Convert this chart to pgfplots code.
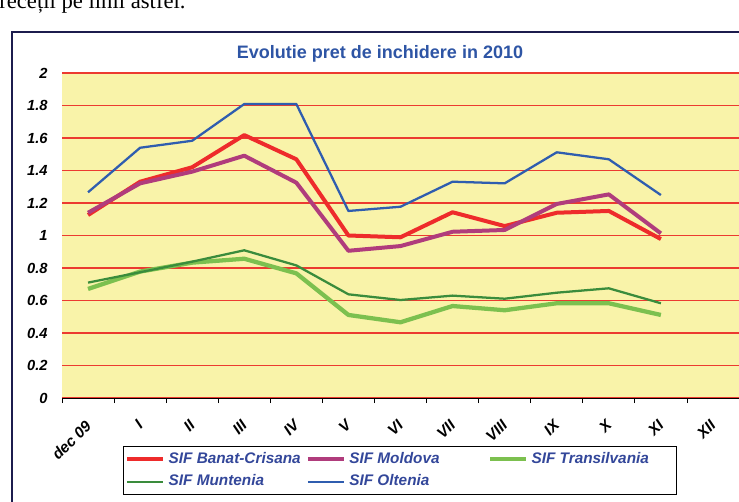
\documentclass[border=0pt]{standalone}
\usepackage{fontspec}
\setmainfont{Liberation Sans}
\newfontfamily\serifdoc{Liberation Serif}
\usepackage{pgfplots}
\pgfplotsset{compat=1.18}
\definecolor{bgyellow}{HTML}{F9F3A9}
\definecolor{gridred}{HTML}{EC3A30}
\definecolor{sred}{HTML}{EE2B2B}
\definecolor{spurple}{HTML}{B03C7C}
\definecolor{slgreen}{HTML}{7CC04F}
\definecolor{sdgreen}{HTML}{3A8C3C}
\definecolor{sblue}{HTML}{2F5DAF}
\definecolor{legblue}{HTML}{33479A}
\definecolor{titleblue}{HTML}{2E55A5}
\definecolor{frame}{HTML}{1C1C4E}
\begin{document}
\begin{tikzpicture}[x=0.75pt,y=-0.75pt]
\useasboundingbox (0,0) rectangle (739,502);
\clip (0,0) rectangle (739,502);
\fill[white] (0,0) rectangle (739,502);
\node[font=\serifdoc\fontsize{17}{20}\selectfont, anchor=base west, inner sep=0pt] at (-1,9) {receții pe linii astfel.};
\draw[frame, line width=1.5pt] (12,32) rectangle (780,540);
\begin{axis}[
  at={(46.5pt,-298.5pt)}, anchor=south west,
  scale only axis, width=507.75pt, height=243.75pt,
  xmin=-0.5, xmax=12.5, ymin=0, ymax=2,
  axis lines*=left,
  y axis line style={draw=none},
  x axis line style={black, line width=0.6pt},
  axis background/.style={fill=bgyellow},
  ytick={0,0.2,...,2.01},
  ymajorgrids, major grid style={gridred, line width=1.1pt},
  major y tick style={draw=none},
  xtick={0,...,12},
  xticklabels={dec 09,I,II,III,IV,V,VI,VII,VIII,IX,X,XI,XII},
  major x tick style={draw=none},
  minor xtick={-0.5,0.5,...,12.6},
  minor x tick style={black, line width=0.6pt},
  minor tick length=3.75pt,
  tick align=outside,
  /pgf/number format/assume math mode=true,
  yticklabel style={font=\bfseries\itshape\fontsize{11}{13}\selectfont, text=black, xshift=-3pt},
  xticklabel style={font=\bfseries\itshape\fontsize{11.5}{13}\selectfont, text=black, rotate=45, anchor=north east, inner sep=1pt, xshift=-9pt, yshift=-5pt},
  legend style={at={(0.0897,-0.1477)}, anchor=north west, draw=black, line width=0.9pt, fill=white,
    font=\bfseries\itshape\fontsize{11.5}{13}\selectfont, text=legblue,
    inner xsep=1.5pt, inner ysep=4.5pt, row sep=7pt,
    nodes={inner sep=0pt, text height=8pt, text depth=2pt},
    /tikz/every odd column/.append style={column sep=2.5pt},
    /tikz/every even column/.append style={column sep=0pt}},
  legend columns=3,
  legend image code/.code={\draw[#1] (0pt,0pt) -- (27pt,0pt);},
  clip=false,
]
\addplot[sred, line width=3pt, line join=round] coordinates {
(0,1.126) (1,1.331) (2,1.42) (3,1.618) (4,1.469) (5,1.0) (6,0.989) (7,1.143) (8,1.058) (9,1.14) (10,1.151) (11,0.978)};
\addlegendentry{\makebox[103pt][l]{SIF Banat-Crisana}}
\addplot[spurple, line width=3pt, line join=round] coordinates {
(0,1.14) (1,1.321) (2,1.393) (3,1.491) (4,1.325) (5,0.906) (6,0.935) (7,1.023) (8,1.034) (9,1.194) (10,1.253) (11,1.013)};
\addlegendentry{\makebox[104pt][l]{SIF Moldova}}
\addplot[slgreen, line width=3.2pt, line join=round] coordinates {
(0,0.671) (1,0.778) (2,0.833) (3,0.857) (4,0.767) (5,0.511) (6,0.466) (7,0.566) (8,0.54) (9,0.583) (10,0.583) (11,0.511)};
\addlegendentry{\makebox[107pt][l]{SIF Transilvania}}
\addplot[sdgreen, line width=1.7pt, line join=round] coordinates {
(0,0.71) (1,0.774) (2,0.839) (3,0.909) (4,0.816) (5,0.638) (6,0.603) (7,0.63) (8,0.611) (9,0.648) (10,0.675) (11,0.583)};
\addlegendentry{\makebox[103pt][l]{SIF Muntenia}}
\addplot[sblue, line width=1.7pt, line join=round] coordinates {
(0,1.266) (1,1.54) (2,1.583) (3,1.809) (4,1.809) (5,1.151) (6,1.177) (7,1.331) (8,1.321) (9,1.512) (10,1.469) (11,1.249)};
\addlegendentry{\makebox[104pt][l]{SIF Oltenia}}
\end{axis}
\node[font=\bfseries\fontsize{13.5}{16}\selectfont, text=titleblue] at (380,54) {Evolutie pret de inchidere in 2010};
\end{tikzpicture}
\end{document}
